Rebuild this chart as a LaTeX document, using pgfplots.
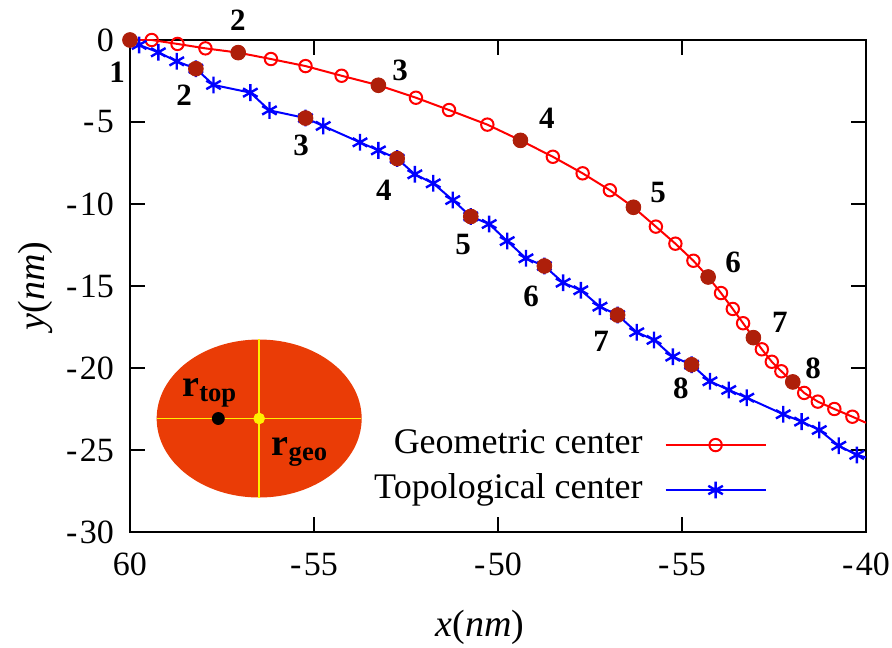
\documentclass[border=0pt]{standalone}
\usepackage{fontspec}
\setmainfont{Liberation Serif}
\usepackage{pgfplots}
\pgfplotsset{compat=1.18}
\definecolor{dotred}{HTML}{AE1F0A}
\definecolor{insetfill}{HTML}{EA3C06}
\definecolor{insetline}{HTML}{FFF000}
\newcommand{\n}[1]{-\kern1.2pt#1}
\newcommand{\lab}[1]{\fontsize{15.5}{15.5}\selectfont\bfseries #1}

\begin{document}
\begin{tikzpicture}
  \begin{axis}[
    scale only axis, width=368pt, height=246pt,
    xmin=-60, xmax=-40, ymin=-30, ymax=0,
    xtick={-60,-55,-50,-45,-40},
    xticklabels={60,\n{55},\n{50},\n{55},\n{40}},
    ytick={-30,-25,-20,-15,-10,-5,0},
    yticklabels={\n{30},\n{25},\n{20},\n{15},\n{10},\n{5},0},
    tick align=inside, major tick length=7.5pt,
    axis line style={line width=1pt}, tick style={line width=0.9pt, black},
    tick label style={font=\fontsize{17}{17}\selectfont},
    xticklabel style={yshift=-7pt},
    yticklabel style={xshift=-4.5pt},
    xlabel={\textit{x}(\textit{nm})}, ylabel={\textit{y}(\textit{nm})},
    label style={font=\fontsize{19}{19}\selectfont},
    xlabel style={at={(axis description cs:0.4755,-0.193)}, anchor=center},
    ylabel style={at={(axis description cs:-0.129,0.5)}, anchor=center},
    clip mode=individual,
    legend plot pos=right, legend cell align=right,
    legend style={draw=none, fill=none, inner sep=0pt,
      font=\fontsize{18}{18}\selectfont,
      nodes={inner sep=0pt, text height=12pt, text depth=3.5pt},
      row sep=7pt, column sep=11pt,
      at={(axis description cs:0.8655,0.131)}, anchor=east},
    legend image code/.code={
      \draw[mark=none] (0pt,0pt) -- (50pt,0pt);
      \draw[mark indices={1}] plot coordinates {(25pt,0pt)};},
  ]
    % inset sketch
    \fill[insetfill] (axis cs:-56.49,-23.08) ellipse [x radius=51.25pt, y radius=39.5pt];
    \draw[insetline, line width=0.7pt] (axis cs:-59.27,-23.08) -- (axis cs:-53.71,-23.08);
    \draw[insetline, line width=0.7pt] (axis cs:-56.49,-18.26) -- (axis cs:-56.49,-27.90);
    \addplot[only marks, mark=*, mark size=3pt, black, forget plot]
      coordinates {(-57.60,-23.08)};
    \addplot[only marks, mark=*, mark size=2.7pt, yellow, forget plot]
      coordinates {(-56.49,-23.08)};
    \node[font=\fontsize{19}{19}\selectfont\bfseries] at (axis cs:-57.83,-21.52) {r\textsubscript{top}};
    \node[font=\fontsize{19}{19}\selectfont\bfseries] at (axis cs:-55.38,-25.12) {r\textsubscript{geo}};

    % geometric center
    \addplot[red, line width=1pt, mark=o, mark size=3.1pt,
      mark options={line width=1pt}, mark indices={1,...,33}]
      coordinates {
      (-60.00,0.00) (-59.41,0.00) (-58.71,-0.24) (-57.95,-0.51) (-57.06,-0.77)
      (-56.17,-1.16) (-55.23,-1.59) (-54.25,-2.18) (-53.25,-2.76) (-52.23,-3.52)
      (-51.33,-4.27) (-50.29,-5.16) (-49.39,-6.12) (-48.51,-7.12) (-47.70,-8.13)
      (-46.96,-9.16) (-46.32,-10.20) (-45.71,-11.38) (-45.18,-12.42) (-44.69,-13.46)
      (-44.29,-14.45) (-43.94,-15.43) (-43.62,-16.40) (-43.34,-17.27) (-43.06,-18.15)
      (-42.83,-18.86) (-42.56,-19.62) (-42.30,-20.20) (-41.99,-20.85) (-41.68,-21.52)
      (-41.31,-22.05) (-40.86,-22.50) (-40.37,-22.97) (-40.00,-23.34)
      };
    \addlegendentry{Geometric center}

    % topological center
    \addplot[blue, line width=1pt, mark=asterisk, mark size=4.2pt,
      mark options={line width=1.2pt}, mark indices={2,...,37}]
      coordinates {
      (-60.00,0.00) (-59.75,-0.30) (-59.23,-0.75) (-58.73,-1.30) (-58.21,-1.75)
      (-57.73,-2.74) (-56.73,-3.21) (-56.21,-4.29) (-55.23,-4.76) (-54.75,-5.24)
      (-53.75,-6.24) (-53.25,-6.73) (-52.74,-7.23) (-52.26,-8.19) (-51.76,-8.74)
      (-51.23,-9.76) (-50.74,-10.76) (-50.24,-11.22) (-49.75,-12.26) (-49.24,-13.31)
      (-48.74,-13.78) (-48.23,-14.80) (-47.75,-15.26) (-47.23,-16.26) (-46.75,-16.77)
      (-46.23,-17.82) (-45.76,-18.29) (-45.25,-19.31) (-44.74,-19.80) (-44.24,-20.81)
      (-43.73,-21.34) (-43.24,-21.81) (-42.25,-22.82) (-41.75,-23.27) (-41.27,-23.78)
      (-40.74,-24.74) (-40.25,-25.30) (-40.00,-25.45)
      };
    \addlegendentry{Topological center}

    % numbered frames
    \addplot[only marks, mark=*, mark size=3.7pt, dotred, forget plot]
      coordinates {
      (-60.00,0.00) (-57.06,-0.77) (-53.25,-2.76) (-49.39,-6.12) (-46.32,-10.20)
      (-44.29,-14.45) (-43.06,-18.15) (-41.99,-20.85)
      };
    \addplot[only marks, mark=*, mark size=3.7pt, dotred, forget plot]
      coordinates {
      (-58.21,-1.75) (-55.23,-4.76) (-52.74,-7.23) (-50.74,-10.76) (-48.74,-13.78)
      (-46.75,-16.77) (-44.74,-19.80)
      };

    \node at (axis cs:-60.35,-1.95) {\lab{1}};
    \node at (axis cs:-57.07,1.22) {\lab{2}};
    \node at (axis cs:-52.66,-1.83) {\lab{3}};
    \node at (axis cs:-48.67,-4.76) {\lab{4}};
    \node at (axis cs:-45.65,-9.27) {\lab{5}};
    \node at (axis cs:-43.61,-13.54) {\lab{6}};
    \node at (axis cs:-42.34,-17.20) {\lab{7}};
    \node at (axis cs:-41.44,-20.00) {\lab{8}};
    \node at (axis cs:-58.53,-3.35) {\lab{2}};
    \node at (axis cs:-55.35,-6.40) {\lab{3}};
    \node at (axis cs:-53.10,-9.15) {\lab{4}};
    \node at (axis cs:-50.95,-12.44) {\lab{5}};
    \node at (axis cs:-49.10,-15.61) {\lab{6}};
    \node at (axis cs:-47.20,-18.35) {\lab{7}};
    \node at (axis cs:-45.03,-21.22) {\lab{8}};
  \end{axis}
  \pgfresetboundingbox
  \path[use as bounding box] (-65pt,-57.5pt) rectangle (381pt,266pt);
\end{tikzpicture}
\end{document}
